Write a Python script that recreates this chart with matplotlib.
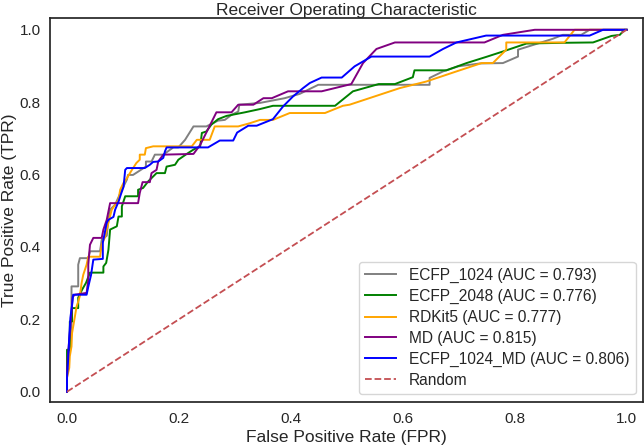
import matplotlib
matplotlib.use("Agg")
import matplotlib.pyplot as plt

# ROC points (FPR, TPR)
ecfp1024_fpr = [0, 0, 0.004, 0.008, 0.008, 0.020, 0.020, 0.023, 0.038, 0.041, 0.059, 0.062, 0.071, 0.074,
                0.077, 0.086, 0.098, 0.107, 0.109, 0.118, 0.141, 0.141, 0.151, 0.157, 0.172, 0.190, 0.199,
                0.211, 0.226, 0.249, 0.270, 0.282, 0.294, 0.306, 0.308, 0.345, 0.389, 0.416, 0.449, 0.648,
                0.648, 0.672, 0.699, 0.738, 0.779, 0.806, 0.806, 0.868, 0.886, 0.919, 0.934, 1.0]
ecfp1024_tpr = [0, 0.075, 0.116, 0.163, 0.291, 0.291, 0.351, 0.369, 0.369, 0.388, 0.388, 0.420, 0.431, 0.475,
                0.503, 0.517, 0.558, 0.586, 0.599, 0.599, 0.622, 0.636, 0.636, 0.655, 0.655, 0.675, 0.675,
                0.696, 0.733, 0.733, 0.749, 0.751, 0.765, 0.774, 0.793, 0.798, 0.811, 0.823, 0.848, 0.848,
                0.867, 0.885, 0.899, 0.907, 0.908, 0.926, 0.945, 0.975, 0.986, 0.986, 1.0, 1.0]

ecfp2048_fpr = [0, 0, 0.005, 0.005, 0.009, 0.009, 0.020, 0.020, 0.027, 0.034, 0.041, 0.065, 0.065, 0.070,
                0.074, 0.077, 0.089, 0.092, 0.098, 0.098, 0.104, 0.127, 0.127, 0.136, 0.145, 0.160, 0.175,
                0.178, 0.193, 0.199, 0.214, 0.226, 0.238, 0.241, 0.249, 0.258, 0.270, 0.285, 0.318, 0.345,
                0.368, 0.479, 0.511, 0.557, 0.586, 0.618, 0.621, 0.678, 0.714, 0.749, 0.779, 0.821, 0.886,
                0.940, 0.973, 0.988, 0.996, 1.0]
ecfp2048_tpr = [0, 0.116, 0.116, 0.194, 0.194, 0.231, 0.231, 0.260, 0.282, 0.301, 0.329, 0.329, 0.346, 0.356,
                0.392, 0.448, 0.457, 0.484, 0.484, 0.512, 0.540, 0.540, 0.558, 0.563, 0.581, 0.604, 0.604,
                0.622, 0.627, 0.641, 0.657, 0.669, 0.678, 0.715, 0.719, 0.738, 0.753, 0.762, 0.772, 0.781,
                0.790, 0.790, 0.830, 0.850, 0.850, 0.869, 0.888, 0.888, 0.908, 0.925, 0.940, 0.962, 0.964,
                0.965, 0.983, 0.986, 1.0, 1.0]

rdkit5_fpr = [0, 0, 0.004, 0.005, 0.008, 0.009, 0.014, 0.017, 0.020, 0.023, 0.026, 0.029, 0.035, 0.038,
              0.059, 0.062, 0.068, 0.073, 0.080, 0.092, 0.095, 0.101, 0.107, 0.116, 0.124, 0.130, 0.130,
              0.139, 0.141, 0.154, 0.223, 0.232, 0.255, 0.264, 0.306, 0.327, 0.345, 0.368, 0.398, 0.461,
              0.493, 0.505, 0.595, 0.642, 0.696, 0.741, 0.761, 0.785, 0.785, 0.889, 0.907, 1.0]
rdkit5_tpr = [0, 0.039, 0.066, 0.098, 0.125, 0.162, 0.207, 0.235, 0.249, 0.265, 0.300, 0.323, 0.351, 0.373,
              0.373, 0.406, 0.428, 0.461, 0.503, 0.530, 0.558, 0.577, 0.590, 0.613, 0.632, 0.641, 0.655,
              0.655, 0.673, 0.678, 0.678, 0.696, 0.696, 0.733, 0.733, 0.742, 0.751, 0.751, 0.770, 0.770,
              0.790, 0.793, 0.839, 0.857, 0.885, 0.908, 0.908, 0.945, 0.965, 0.965, 1.0, 1.0]

md_fpr = [0, 0, 0.001, 0.004, 0.008, 0.010, 0.014, 0.035, 0.038, 0.038, 0.041, 0.047, 0.062, 0.065, 0.071,
          0.077, 0.127, 0.130, 0.135, 0.148, 0.151, 0.160, 0.163, 0.172, 0.226, 0.238, 0.267, 0.294, 0.306,
          0.333, 0.351, 0.366, 0.395, 0.455, 0.508, 0.529, 0.553, 0.586, 0.746, 0.779, 0.836, 1.0]
md_tpr = [0, 0.047, 0.088, 0.144, 0.217, 0.262, 0.268, 0.273, 0.309, 0.351, 0.406, 0.425, 0.425, 0.448, 0.475,
          0.521, 0.521, 0.549, 0.579, 0.579, 0.604, 0.613, 0.636, 0.655, 0.657, 0.682, 0.772, 0.772, 0.793,
          0.793, 0.811, 0.811, 0.830, 0.830, 0.850, 0.908, 0.947, 0.965, 0.965, 0.986, 1.0, 1.0]

ecfp1024_md_fpr = [0, 0, 0.002, 0.004, 0.006, 0.009, 0.011, 0.035, 0.038, 0.043, 0.047, 0.064, 0.064, 0.071,
                   0.074, 0.083, 0.086, 0.092, 0.096, 0.101, 0.104, 0.107, 0.139, 0.148, 0.154, 0.163, 0.172,
                   0.175, 0.178, 0.252, 0.273, 0.297, 0.304, 0.324, 0.339, 0.368, 0.386, 0.404, 0.422, 0.434,
                   0.455, 0.491, 0.514, 0.544, 0.648, 0.672, 0.696, 0.749, 0.934, 0.958, 1.0]
ecfp1024_md_tpr = [0, 0.039, 0.088, 0.152, 0.204, 0.240, 0.268, 0.268, 0.290, 0.323, 0.365, 0.367, 0.412, 0.467,
                   0.475, 0.483, 0.503, 0.525, 0.544, 0.566, 0.613, 0.618, 0.618, 0.627, 0.635, 0.636, 0.646,
                   0.664, 0.675, 0.675, 0.694, 0.694, 0.716, 0.735, 0.735, 0.753, 0.788, 0.816, 0.839, 0.853,
                   0.868, 0.868, 0.899, 0.926, 0.926, 0.947, 0.965, 0.984, 0.984, 1.0, 1.0]

labels = ["ECFP_1024 (AUC = 0.793)", "ECFP_2048 (AUC = 0.776)", "RDKit5 (AUC = 0.777)",
          "MD (AUC = 0.815)", "ECFP_1024_MD (AUC = 0.806)"]
colors = ["gray", "green", "orange", "purple", "blue"]

plt.rcParams['font.family'] = ['Liberation Sans', 'DejaVu Sans']
plt.rcParams['text.color'] = '.15'
plt.rcParams['axes.labelcolor'] = '.15'
plt.rcParams['xtick.color'] = '.15'
plt.rcParams['ytick.color'] = '.15'

fig = plt.figure(figsize=(6.44, 4.46), dpi=100)
ax = fig.add_axes([0.078, 0.099, 0.921, 0.861])

curves = [(ecfp1024_fpr, ecfp1024_tpr), (ecfp2048_fpr, ecfp2048_tpr), (rdkit5_fpr, rdkit5_tpr),
          (md_fpr, md_tpr), (ecfp1024_md_fpr, ecfp1024_md_tpr)]
for (f, t), lab, c in zip(curves, labels, colors):
    ax.plot(f, t, color=c, lw=1.4, label=lab)
ax.plot([0, 1], [0, 1], color='#C44E52', lw=1.3, ls='--', label='Random')

ax.set_xlim(-0.03, 1.03)
ax.set_ylim(-0.028, 1.033)
ax.set_xticks([0, 0.2, 0.4, 0.6, 0.8, 1.0])
ax.set_yticks([0, 0.2, 0.4, 0.6, 0.8, 1.0])
ax.tick_params(length=0, pad=7, labelsize=11)
for s in ax.spines.values():
    s.set_color('.15')
    s.set_linewidth(1.25)

ax.set_xlabel('False Positive Rate (FPR)', fontsize=12.5, labelpad=3)
ax.set_ylabel('True Positive Rate (TPR)', fontsize=12.5, labelpad=2)
ax.set_title('Receiver Operating Characteristic', fontsize=12.5, pad=2)

leg = ax.legend(loc='lower right', fontsize=11.2, labelspacing=0.38, edgecolor='.8',
                borderaxespad=0.5, handletextpad=0.8)

fig.savefig('out.png', dpi=100)
